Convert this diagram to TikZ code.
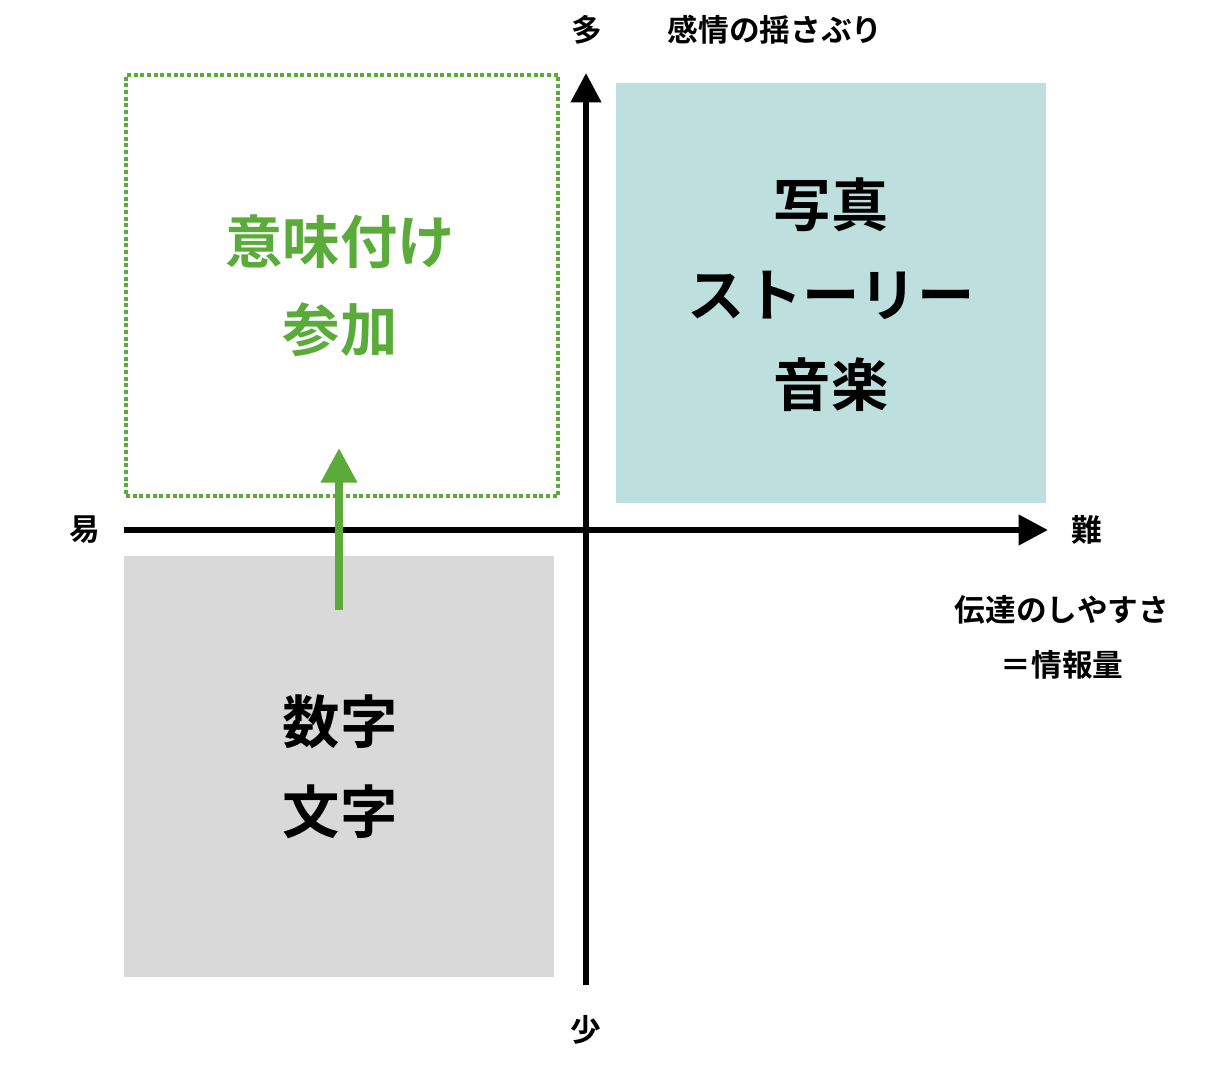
\documentclass[tikz,border=0pt]{standalone}
\usepackage{fontspec}
\newfontfamily\cjk{Noto Sans CJK JP}[BoldFont={Noto Sans CJK JP Bold}]
\usetikzlibrary{arrows.meta}
\definecolor{grn}{HTML}{5AAB3A}
\definecolor{teal}{HTML}{BDDFDD}
\definecolor{gry}{HTML}{D9D9D9}
\begin{document}
\begin{tikzpicture}[x=0.75pt,y=-0.75pt,
  small/.style={font=\cjk\fontsize{23}{26}\selectfont\bfseries},
  big/.style={font=\cjk\fontsize{43}{48}\selectfont\bfseries},
  axis/.style={line width=4.5pt,-{Triangle[length=22pt,width=22pt]}}]
\useasboundingbox (0,0) rectangle (1224,1066);
\node[draw=grn,dotted,line width=3pt,minimum width=432*0.75pt,minimum height=421*0.75pt,anchor=north west,inner sep=0] (gbox) at (124,73) {};
\node[fill=teal,minimum width=430*0.75pt,minimum height=420*0.75pt,anchor=north west,inner sep=0] (tbox) at (616,83) {};
\node[fill=gry,minimum width=430*0.75pt,minimum height=421*0.75pt,anchor=north west,inner sep=0] (ybox) at (124,556) {};
\coordinate (xs) at (124,530); \coordinate (xe) at (1048,530);
\coordinate (ys) at (586,985); \coordinate (ye) at (586,73);
\draw[axis] (xs) -- (xe);
\draw[axis] (ys) -- (ye);
\coordinate (as) at (339,610); \coordinate (ae) at (339,448);
\draw[grn,line width=6pt,-{Triangle[length=26pt,width=26pt]}] (as) -- (ae);
\node[small] (t1) at (587,30) {多};
\node[small] (t2) at (775,30) {感情の揺さぶり};
\node[small] (t3) at (85,530) {易};
\node[small] (t4) at (1087,530) {難};
\node[small] (t5) at (586,1030) {少};
\node[small] (t6) at (1062,610) {伝達のしやすさ};
\node[small] (t7) at (1062,665) {＝情報量};
\node[big,text=grn] (g1) at (340,242) {意味付け};
\node[big,text=grn] (g2) at (340,330) {参加};
\node[big] (p1) at (831,205) {写真};
\node[big] (p2) at (831,295) {ストーリー};
\node[big] (p3) at (831,385) {音楽};
\node[big] (n1) at (340,722) {数字};
\node[big] (n2) at (340,812) {文字};
\end{tikzpicture}
\end{document}
